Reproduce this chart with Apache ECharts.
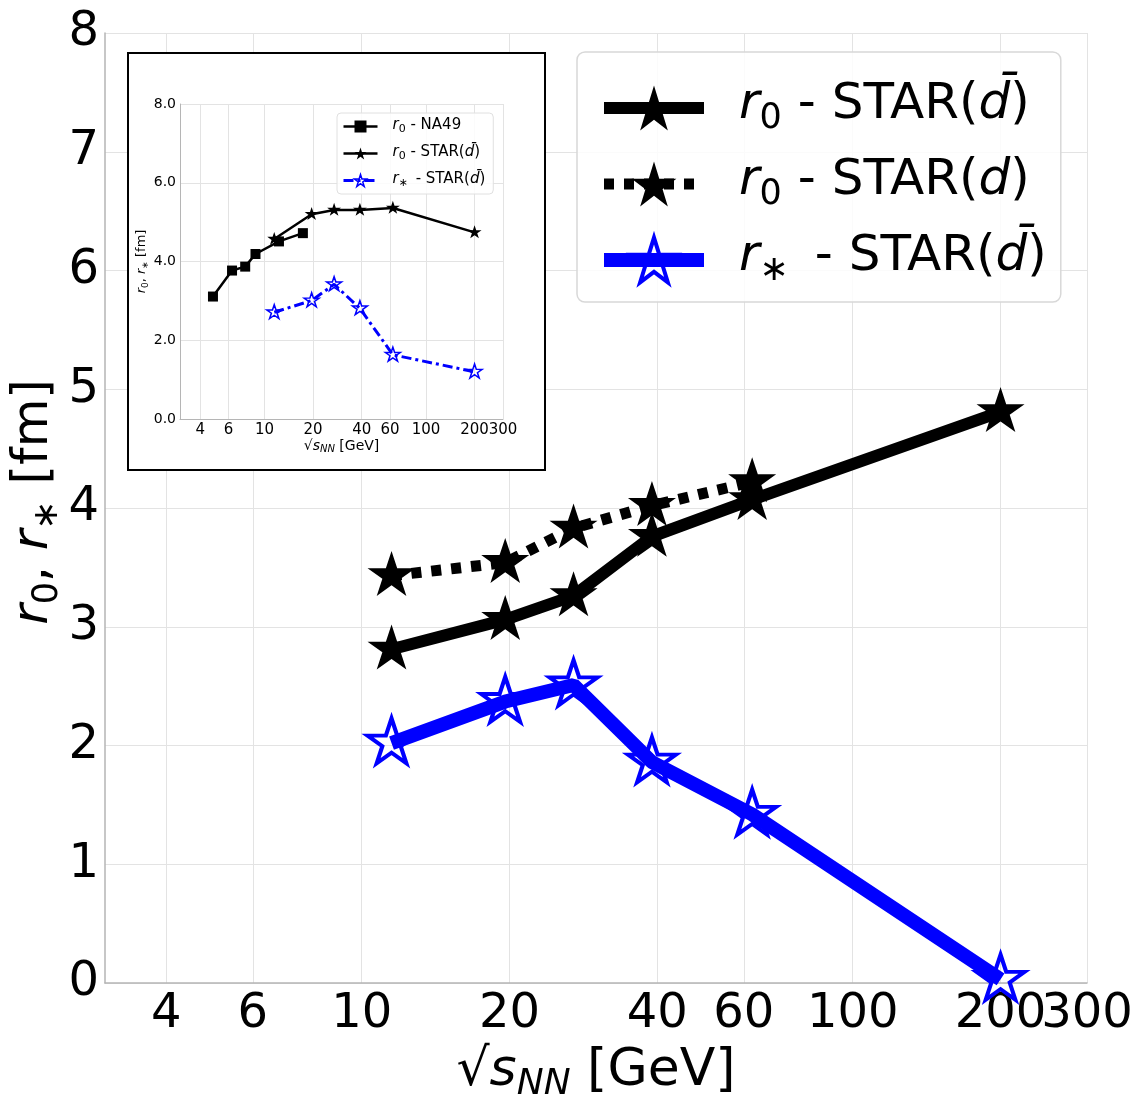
<!DOCTYPE html>
<html><head><meta charset="utf-8">
<script src="https://cdn.jsdelivr.net/npm/echarts@6/dist/echarts.min.js"></script>
<style>html,body{margin:0;padding:0;background:#fff}#c{width:1139px;height:1094px}</style>
</head><body><div id="c"></div>
<script>
// ---- data ----
const energies = [11.5, 19.6, 27, 39, 62.4, 200];
const r0AntiD = [2.81, 3.06, 3.26, 3.76, 4.07, 4.81];
const energiesD = [11.5, 19.6, 27, 39, 62.4];
const r0D = [3.43, 3.54, 3.83, 4.02, 4.22];
const rStarAntiD = [2.02, 2.37, 2.51, 1.86, 1.42, 0.03];
const na49Energies = [4.8, 6.3, 7.6, 8.8, 12.3, 17.3];
const na49R0 = [3.11, 3.77, 3.87, 4.19, 4.51, 4.72];
const insetR0AntiD = [4.57, 5.20, 5.31, 5.31, 5.36, 4.74];
const insetRStarAntiD = [2.71, 3.01, 3.42, 2.81, 1.63, 1.20];
const xTickLabels = [4, 6, 10, 20, 40, 60, 100, 200, 300];

const FONT = 'DejaVu Sans';
const zip = (a, b) => a.map((v, i) => [v, b[i]]);
const STAR = 'path://M100 0L122.45 69.1L195.11 69.1L136.33 111.8L158.78 180.9L100 138.2L41.22 180.9L63.67 111.8L4.89 69.1L77.55 69.1Z';
const logTicks = xTickLabels.map(v => Math.log10(v));
// main axis: last label drawn by a separate overlay axis so that the touching "200" and "300" both show
const logTicksHead = logTicks.slice(0, -1);
const logTicksTail = logTicks.slice(-1);
const fmtLog = v => String(Math.round(Math.pow(10, v)));

function rich(fs, spW) {
  const pb = Math.round(fs * 0.12);
  return {
    i: {fontFamily: FONT, fontStyle: 'italic', fontSize: fs, color: '#000', verticalAlign: 'bottom', padding: [0, 0, pb, 0]},
    n: {fontFamily: FONT, fontSize: fs, color: '#000', verticalAlign: 'bottom', padding: [0, 0, pb, 0]},
    sub: {fontFamily: FONT, fontSize: Math.round(fs * 0.7), color: '#000', verticalAlign: 'bottom'},
    subi: {fontFamily: FONT, fontStyle: 'italic', fontSize: Math.round(fs * 0.7), color: '#000', verticalAlign: 'bottom'},
    sp: {width: spW || Math.round(fs * 0.72)}
  };
}
const legendText = {
  r0dbar: '{sp| }{i|r}{sub|0}{n| - STAR(}{i|d\u0304}{n|)}',
  r0d: '{sp| }{i|r}{sub|0}{n| - STAR(}{i|d}{n|)}',
  rsdbar: '{sp| }{i|r}{sub|\u2217}{n| \u2009- STAR(}{i|d\u0304}{n|)}',
  inNA49: '{sp| }{i|r}{sub|0}{n| - NA49}',
  inR0: '{sp| }{i|r}{sub|0}{n| - STAR(}{i|d\u0304}{n|)}',
  inRs: '{sp| }{i|r}{sub|\u2217}{n| \u2009- STAR(}{i|d\u0304}{n|)}'
};
const yName = '{i|r}{sub|0}{n|, }{i|r}{sub|\u2217}{n| [fm]}';
const xName = '{n|\u221A}{i|s}{subi|NN}{n| [GeV]}';

const gridColor = '#e3e3e3';
const spineColor = '#b5b5b5';

const chart = echarts.init(document.getElementById('c'), null, {renderer: 'canvas'});
chart.setOption({
  backgroundColor: '#fff',
  animation: false,
  grid: [
    {left: 105, top: 33, width: 982, height: 950, containLabel: false, outerBoundsMode: 'none'},
    {left: 180, top: 104, width: 323, height: 315, z: 3, containLabel: false, outerBoundsMode: 'none'}
  ],
  graphic: {elements: [{type: 'rect', z: 1, shape: {x: 128, y: 53, width: 417, height: 417},
    style: {fill: '#fff', stroke: '#000', lineWidth: 2}}]},
  xAxis: [
    {type: 'log', gridIndex: 0, min: 3, max: 300, logBase: 10, show: false},
    {type: 'value', gridIndex: 0, min: Math.log10(3), max: Math.log10(300), position: 'bottom',
      axisLine: {show: true, onZero: false, lineStyle: {color: spineColor, width: 1.5}},
      axisTick: {show: false, customValues: logTicks},
      axisLabel: {customValues: logTicksHead, formatter: fmtLog,
        fontSize: 48, color: '#000', fontFamily: FONT, margin: 8, showMaxLabel: true, showMinLabel: true},
      splitLine: {show: true, lineStyle: {color: gridColor, width: 1}},
      name: xName, nameLocation: 'middle', nameGap: 62,
      nameTextStyle: {rich: rich(52)}},
    {type: 'log', gridIndex: 1, min: 3, max: 300, logBase: 10, show: false},
    {type: 'value', gridIndex: 1, min: Math.log10(3), max: Math.log10(300), position: 'bottom', z: 3,
      axisLine: {show: true, onZero: false, lineStyle: {color: spineColor, width: 1}},
      axisTick: {show: false, customValues: logTicks},
      axisLabel: {customValues: logTicks, formatter: fmtLog,
        fontSize: 15, color: '#000', fontFamily: FONT, margin: 4, showMaxLabel: true},
      splitLine: {show: true, lineStyle: {color: gridColor, width: 1}},
      name: xName, nameLocation: 'middle', nameGap: 18,
      nameTextStyle: {rich: rich(14)}},
    {type: 'value', gridIndex: 0, min: Math.log10(3), max: Math.log10(300), position: 'bottom', offset: 0,
      axisLine: {show: false}, splitLine: {show: false},
      axisTick: {show: false, customValues: logTicksTail},
      axisLabel: {customValues: logTicksTail, formatter: fmtLog,
        fontSize: 48, color: '#000', fontFamily: FONT, margin: 8, showMaxLabel: true}}
  ],
  yAxis: [
    {type: 'value', gridIndex: 0, min: 0, max: 8, interval: 1,
      axisLine: {show: true, lineStyle: {color: spineColor, width: 1.5}},
      axisTick: {show: false},
      axisLabel: {fontSize: 48, color: '#000', fontFamily: FONT, margin: 6},
      splitLine: {show: true, lineStyle: {color: gridColor, width: 1}},
      name: yName, nameLocation: 'middle', nameRotate: 90, nameGap: 40, nameMoveOverlap: false,
      nameTextStyle: {rich: rich(50), padding: [0, 0, 0, 12]}},
    {type: 'value', gridIndex: 1, min: 0, max: 8, interval: 2, z: 3,
      axisLine: {show: true, lineStyle: {color: spineColor, width: 1}},
      axisTick: {show: false},
      axisLabel: {fontSize: 14, color: '#000', fontFamily: FONT, margin: 4, formatter: v => v.toFixed(1)},
      splitLine: {show: true, lineStyle: {color: gridColor, width: 1}},
      name: yName, nameLocation: 'middle', nameRotate: 90, nameGap: 30,
      nameTextStyle: {rich: rich(13)}}
  ],
  legend: [
    {left: 577, top: 52, orient: 'vertical', z: 5,
      data: ['r0dbar', 'r0d', 'rsdbar'],
      itemWidth: 100, itemHeight: 56, itemGap: 20,
      padding: [28, 14, 14, 20],
      backgroundColor: 'rgba(255,255,255,0.85)', borderColor: '#d8d8d8', borderWidth: 1.5, borderRadius: 8,
      lineStyle: {width: 'inherit'}, itemStyle: {borderWidth: 'inherit'},
      textStyle: {fontFamily: FONT, fontSize: 50, color: '#000', rich: rich(50, 30)},
      formatter: n => legendText[n], selectedMode: false},
    {left: 337, top: 113, orient: 'vertical', z: 5,
      data: ['inNA49', 'inR0', 'inRs'],
      itemWidth: 34, itemHeight: 15, itemGap: 10,
      padding: [5, 8, 5, 5],
      backgroundColor: 'rgba(255,255,255,0.85)', borderColor: '#e0e0e0', borderWidth: 1, borderRadius: 4,
      lineStyle: {width: 'inherit'}, itemStyle: {borderWidth: 'inherit'},
      textStyle: {fontFamily: FONT, fontSize: 15, color: '#000', rich: rich(15, 10)},
      formatter: n => legendText[n], selectedMode: false}
  ],
  series: [
    {name: 'r0dbar', type: 'line', xAxisIndex: 0, yAxisIndex: 0, data: zip(energies, r0AntiD),
      symbol: STAR, symbolSize: [48, 45], symbolOffset: [0, '-5%'],
      lineStyle: {color: '#000', width: 12}, itemStyle: {color: '#000'}, z: 2},
    {name: 'r0d', type: 'line', xAxisIndex: 0, yAxisIndex: 0, data: zip(energiesD, r0D),
      symbol: STAR, symbolSize: [48, 45], symbolOffset: [0, '-5%'],
      lineStyle: {color: '#000', width: 11, type: [10, 10]}, itemStyle: {color: '#000'}, z: 2},
    {name: 'rsdbar', type: 'line', xAxisIndex: 0, yAxisIndex: 0, data: zip(energies, rStarAntiD),
      symbol: STAR, symbolSize: [48, 45], symbolOffset: [0, '-5%'],
      lineStyle: {color: '#0000ff', width: 14},
      itemStyle: {color: 'rgba(255,255,255,0)', borderColor: '#0000ff', borderWidth: 4}, z: 2},
    {name: 'inNA49', type: 'line', xAxisIndex: 2, yAxisIndex: 1, data: zip(na49Energies, na49R0),
      symbol: 'rect', symbolSize: 10,
      lineStyle: {color: '#000', width: 2.5}, itemStyle: {color: '#000'}, z: 4},
    {name: 'inR0', type: 'line', xAxisIndex: 2, yAxisIndex: 1, data: zip(energies, insetR0AntiD),
      symbol: STAR, symbolSize: [14, 13], symbolOffset: [0, '-5%'],
      lineStyle: {color: '#000', width: 2.5}, itemStyle: {color: '#000'}, z: 4},
    {name: 'inRs', type: 'line', xAxisIndex: 2, yAxisIndex: 1, data: zip(energies, insetRStarAntiD),
      symbol: STAR, symbolSize: [15, 14], symbolOffset: [0, '-5%'],
      lineStyle: {color: '#0000ff', width: 3, type: [10, 4, 3, 4]},
      itemStyle: {color: 'rgba(255,255,255,0)', borderColor: '#0000ff', borderWidth: 1.5}, z: 4}
  ]
});
</script></body></html>
